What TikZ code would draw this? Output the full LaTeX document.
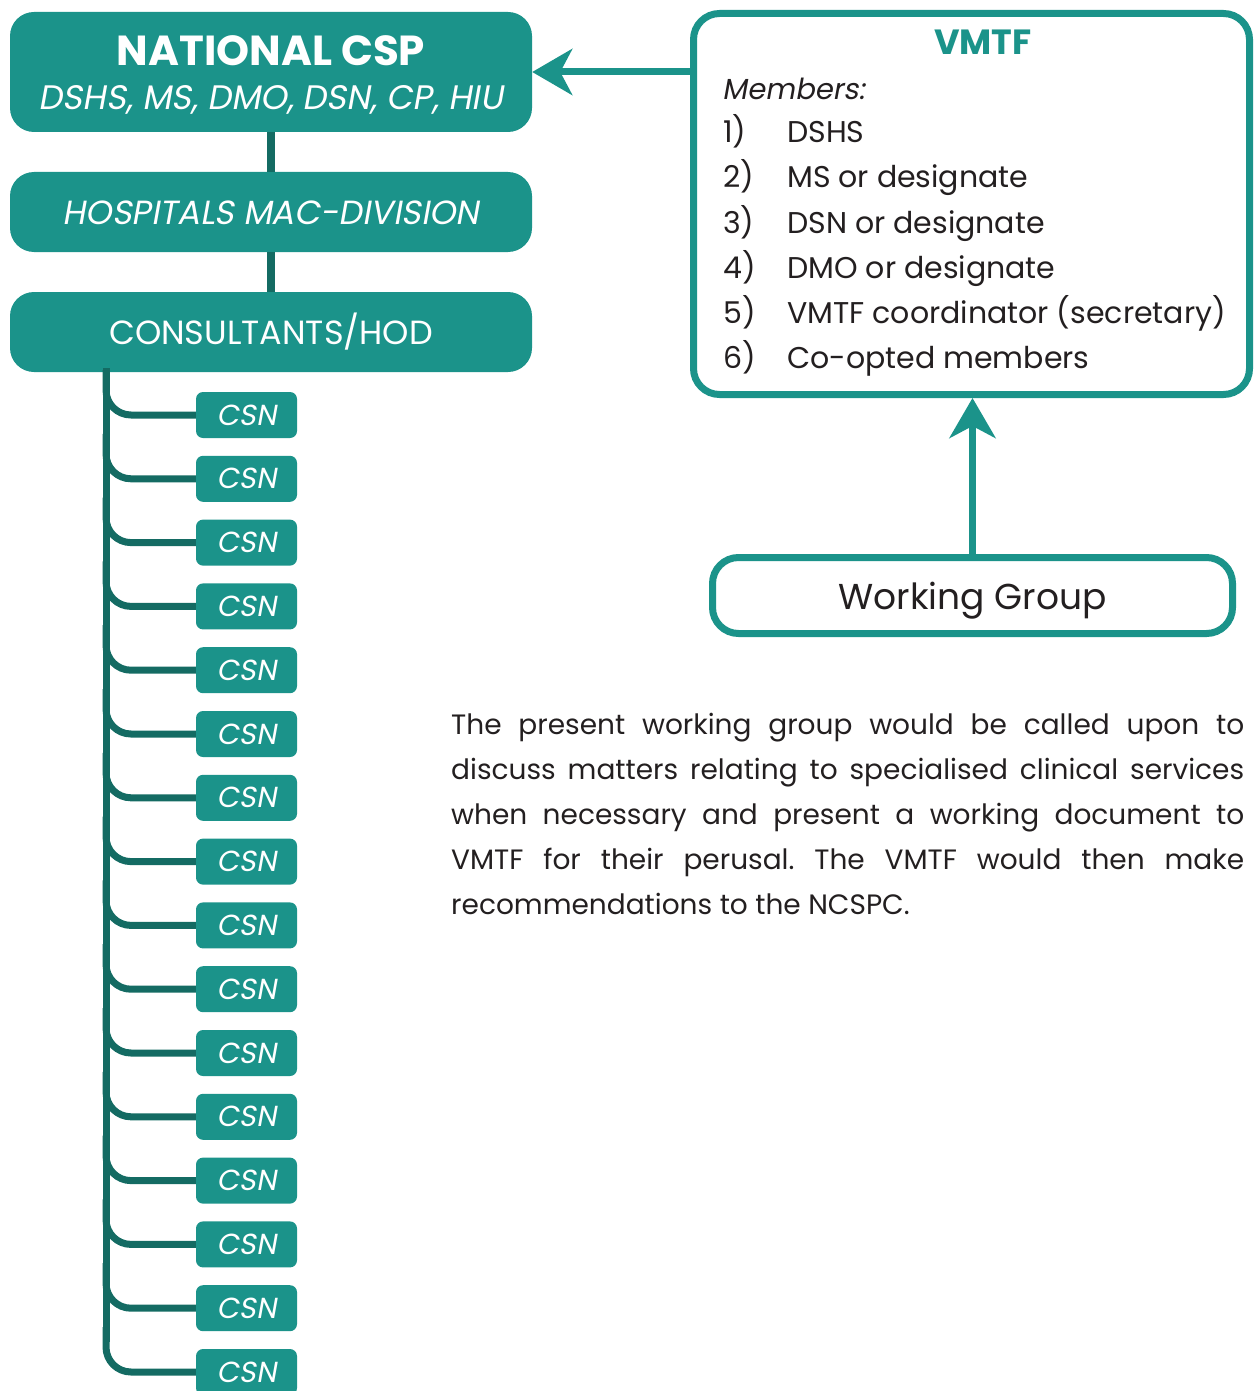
\documentclass[tikz,border=0pt]{standalone}
\usepackage{fontspec}
\setmainfont{Poppins}
\newfontfamily\slantfont[FakeSlant=0.18]{Poppins}
\usetikzlibrary{arrows.meta}
\definecolor{teal}{HTML}{1B938A}
\definecolor{darkteal}{HTML}{146B63}
\definecolor{ink}{HTML}{231F20}
\tikzset{
  fillbox/.style={fill=teal, draw=none, rounded corners=24pt, text=white, align=center, inner sep=0pt},
  csnbox/.style={fill=teal, draw=none, rounded corners=7pt, text=white, minimum width=101pt, minimum height=46pt, inner sep=0pt, font=\slantfont\fontsize{29}{34}\selectfont},
  framebox/.style={draw=teal, line width=7pt, rounded corners=26pt, fill=white, inner sep=0pt},
  link/.style={draw=darkteal, line width=8pt},
  branch/.style={draw=darkteal, line width=7pt, rounded corners=25pt},
  flow/.style={draw=teal, line width=7pt, -{Stealth[length=40pt, width=46pt, inset=12pt]}},
  label/.style={anchor=base, inner sep=0pt},
  member/.style={anchor=base west, text=ink, inner sep=0pt, font=\fontsize{30}{36}\selectfont},
}
\begin{document}
\frenchspacing
\begin{tikzpicture}[x=1pt, y=-1pt]
\useasboundingbox (0,0) rectangle (1257,1391);

% left column: national committee and its chain
\node[fillbox, minimum width=522pt, minimum height=120pt] (ncsp) at (271,72) {};
\node[label, text=white, font=\bfseries\fontsize{42}{46}\selectfont] (ncsptitle) at (271,66) {NATIONAL CSP};
\node[label, text=white, font=\slantfont\fontsize{34}{38}\selectfont] (ncspsub) at (271,110) {DSHS, MS, DMO, DSN, CP, HIU};
\node[fillbox, minimum width=522pt, minimum height=80pt] (hosp) at (271,212) {};
\node[label, text=white, font=\slantfont\fontsize{33.5}{38}\selectfont] (hosptext) at (271,224) {HOSPITALS MAC-DIVISION};
\node[fillbox, minimum width=522pt, minimum height=80pt] (cons) at (271,332) {};
\node[label, text=white, font=\fontsize{33.5}{38}\selectfont] (constext) at (271,344) {CONSULTANTS/HOD};

\draw[link] (ncsp.south) -- (hosp.north);
\draw[link] (hosp.south) -- (cons.north);

% tree of CSN boxes
\coordinate (trunktop) at (106,368);
\foreach \i in {0,...,15} {
  \pgfmathsetmacro{\cy}{415+63.8*\i}
  \node[csnbox] (csn\i) at (246.5,\cy) {CSN};
  \draw[branch] (106,\cy-45) |- (csn\i.west);
}
\draw[darkteal, line width=7pt] (trunktop) -- (106,1372-30);

% VMTF box
\node[framebox, minimum width=556pt, minimum height=381pt] (vmtf) at (971.5,204) {};
\node[label, text=teal, font=\bfseries\fontsize{35}{40}\selectfont] (vtitle) at (983,55) {VMTF};
\node[member, font=\slantfont\fontsize{29}{34}\selectfont] (mhead) at (722,100) {Members:};
\foreach \n/\t [count=\k from 0] in {1)/DSHS, 2)/MS or designate, 3)/DSN or designate, 4)/DMO or designate, 5)/VMTF coordinator (secretary), 6)/Co-opted members} {
  \node[member] (num\k) at (723,143+45*\k) {\n};
  \node[member] (item\k) at (787,143+45*\k) {\t};
}

% working group
\node[framebox, minimum width=520pt, minimum height=76pt] (wg) at (972.5,595.5) {};
\node[label, text=ink, font=\fontsize{36}{40}\selectfont] (wgtext) at (972.5,609) {Working Group};

\draw[flow] (ncsp.east -| vmtf.west) -- (ncsp.east);
\draw[flow] (wg.north) -- (wg.north |- vmtf.south);

% explanatory note
\node[anchor=north west, inner sep=0pt, text width=793pt, align=justify, text=ink,
      font=\fontsize{28}{45}\selectfont] (note) at (451,713)
  {The present working group would be called upon to\linebreak
   discuss matters relating to specialised clinical services\linebreak
   when necessary and present a working document to\linebreak
   VMTF for their perusal. The VMTF would then make\linebreak
   recommendations to the NCSPC.};
\end{tikzpicture}
\end{document}
